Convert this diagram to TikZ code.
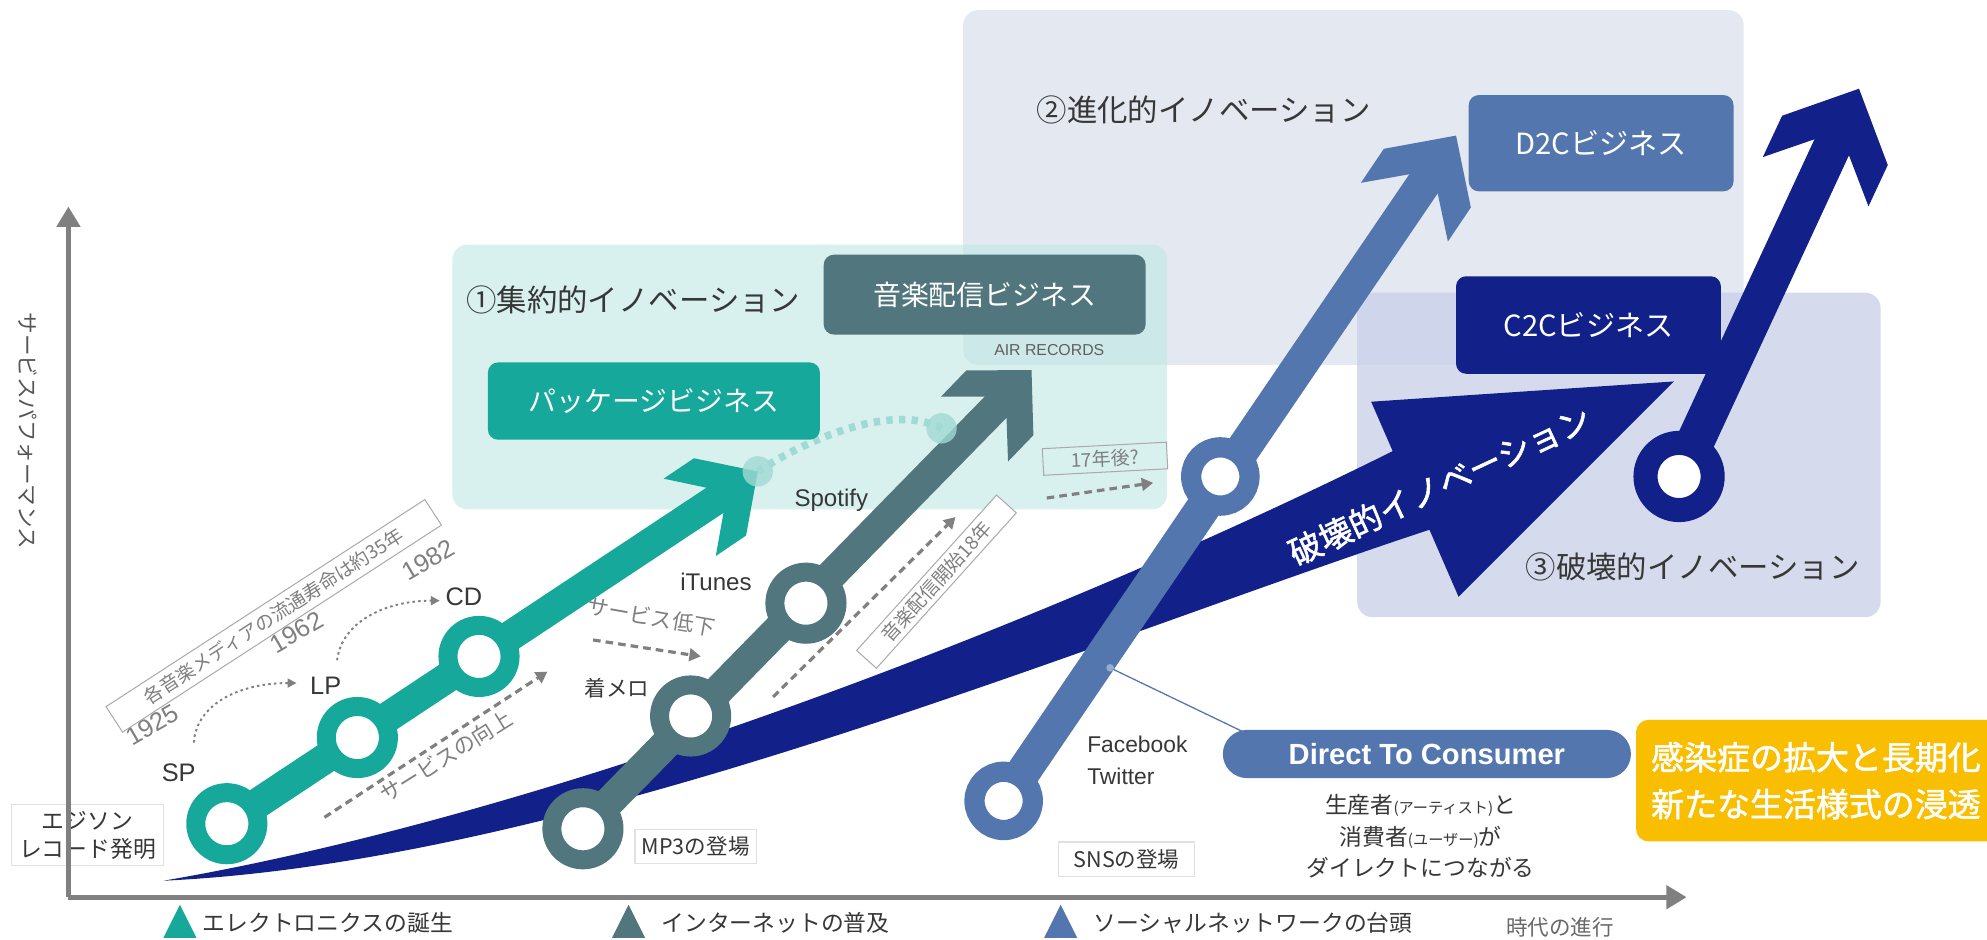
\documentclass[tikz,border=0pt]{standalone}
\usepackage{fontspec}
\setmainfont{Noto Sans CJK JP}
\newfontfamily\jpb{Noto Sans CJK JP}[FakeBold=1.6]
\newfontfamily\lat{Liberation Sans}
\newfontfamily\latb{Liberation Sans Bold}
\usetikzlibrary{arrows.meta,calc}
\definecolor{teal1}{RGB}{22,168,155}
\definecolor{tealL}{RGB}{160,218,212}
\definecolor{slate}{RGB}{81,118,125}
\definecolor{blue1}{RGB}{84,118,175}
\definecolor{navy}{RGB}{18,33,138}
\definecolor{yel}{RGB}{250,190,0}
\definecolor{boxTwo}{RGB}{228,232,241}
\definecolor{boxThree}{RGB}{200,207,232}
\definecolor{boxOne}{RGB}{190,232,228}
\definecolor{grey2}{RGB}{128,128,128}
\definecolor{grey3}{RGB}{170,170,170}
\definecolor{dark}{RGB}{55,55,55}
\definecolor{axisgrey}{RGB}{128,128,128}
\newcommand\fsz[2]{\fontsize{#1pt}{#2pt}\selectfont}
\newcommand\headshape[5]{%
  \begin{scope}[shift={(#2)},rotate=#3,scale=#4,x=1pt,y=1pt]
    \fill[#1] (0,0) -- (-45,46) -- (-81,46) -- (-51,15) -- (-51,-15) -- (-81,-46) -- (-45,-46) -- cycle;
    \coordinate (#5) at (-50,0);
  \end{scope}}
\begin{document}
\begin{tikzpicture}[x=1pt,y=-1pt,
  every node/.style={inner sep=0pt, outer sep=0pt},
  ringnode/.style={circle, draw=#1, line width=15pt, fill=white, minimum size=49pt},
  bizbox/.style={rounded corners=8pt, fill=#1, text=white, font={\fsz{22}{22}}},
  lbl/.style={text=dark},
  gtext/.style={text=grey2},
  tagbox/.style={draw=grey3, line width=0.8pt, fill=white, text=grey2},
  plainbox/.style={draw=black!12, line width=1pt, fill=white, text=dark},
  dasharrow/.style={draw=grey2, line width=2.5pt, dash pattern=on 6pt off 4pt, -{Triangle[length=9pt,width=10pt]}},
  dotarc/.style={draw=grey2, line width=1.5pt, dash pattern=on 2pt off 2.5pt, -{Triangle[length=7pt,width=7pt]}},
  tealdot/.style={draw=tealL, line width=6pt, dash pattern=on 5pt off 5pt},
  axisline/.style={draw=axisgrey, line width=4pt, -{Triangle[length=16pt,width=18pt]}}
]
\clip (0,0) rectangle (1568,741);
\fill[white] (0,0) rectangle (1568,741);

% background regions
\fill[boxTwo, rounded corners=12pt] (760,8) rectangle (1376,288);
\fill[boxThree, opacity=0.75, rounded corners=12pt] (1071,231) rectangle (1484,487);
\fill[boxOne, opacity=0.6, rounded corners=12pt] (357,193) rectangle (921,402);

\node[lbl, anchor=west, font={\fsz{24}{24}}] (t1) at (368,237) {①集約的イノベーション};
\node[lbl, anchor=west, font={\fsz{24}{24}}] (t2) at (818,87) {②進化的イノベーション};
\node[lbl, anchor=west, font={\fsz{24}{24}}] (t3) at (1204,447) {③破壊的イノベーション};

% disruptive band
\fill[navy] (129,695) .. controls (450,640) and (850,480) .. (1099,356) -- (1082,317) -- (1321,301) -- (1151,471) -- (1128,418) .. controls (850,510) and (450,680) .. (129,695) -- cycle;
\node[text=white, rotate=25, font={\jpb\fsz{26}{26}}] (disr) at (1136,383) {破壊的イノベーション};

% teal dotted link
\coordinate (lc1) at (598,372);
\coordinate (lc2) at (743,338);
\draw[tealdot] (lc1) .. controls (640,345) and (705,318) .. (lc2);

% ring centres
\coordinate (cSP) at (179,650);
\coordinate (cLP) at (282,582);
\coordinate (cCD) at (378,518);
\coordinate (cMP) at (460,654);
\coordinate (cCH) at (545,565);
\coordinate (cIT) at (636,476);
\coordinate (cSN) at (792,632);
\coordinate (cFB) at (963,376);
\coordinate (cCC) at (1325,376);
\coordinate (tipT) at (598,372);
\coordinate (tipS) at (814,292);
\coordinate (tipB) at (1149,107);
\coordinate (tipN) at (1467,70);

% arrows
\headshape{teal1}{tipT}{34}{0.8}{jT}
\draw[teal1, line width=24pt] (cSP) -- (jT);
\headshape{slate}{tipS}{46}{0.8}{jS}
\draw[slate, line width=24pt] (cMP) -- (jS);
\headshape{blue1}{tipB}{56}{0.9}{jB}
\draw[blue1, line width=27pt] (cSN) -- (jB);
\headshape{navy}{tipN}{65}{1}{jN}
\draw[navy, line width=30pt] (cCC) -- (jN);

\node[circle, fill=tealL, opacity=0.8, minimum size=24pt] (lcA) at (lc1) {};
\node[circle, fill=tealL, opacity=0.8, minimum size=24pt] (lcB) at (lc2) {};

% rings
\node[ringnode=teal1] (sp) at (cSP) {};
\node[ringnode=teal1] (lp) at (cLP) {};
\node[ringnode=teal1] (cd) at (cCD) {};
\node[ringnode=slate] (mp3) at (cMP) {};
\node[ringnode=slate] (chaku) at (cCH) {};
\node[ringnode=slate] (itunes) at (cIT) {};
\node[ringnode=blue1, line width=16pt, minimum size=46pt] (sns) at (cSN) {};
\node[ringnode=blue1, line width=16pt, minimum size=46pt] (fb) at (cFB) {};
\node[ringnode=navy, line width=19pt, minimum size=53pt] (c2cring) at (cCC) {};

% business boxes
\node[bizbox=teal1, minimum width=262pt, minimum height=61pt] (pkg) at (516,316.5) {パッケージビジネス};
\node[bizbox=slate, minimum width=254pt, minimum height=63pt] (dist) at (777,232.5) {音楽配信ビジネス};
\node[text=dark!80, font={\lat\fsz{12.5}{13}}] (air) at (828,276) {AIR RECORDS};
\node[bizbox=blue1, minimum width=209pt, minimum height=76pt, font={\fsz{23}{23}}] (d2c) at (1263.5,113) {D2Cビジネス};
\node[bizbox=navy, minimum width=209pt, minimum height=77pt, font={\fsz{23}{23}}] (c2c) at (1253.5,256.5) {C2Cビジネス};

% direct to consumer
\node[circle, fill=blue1!60, minimum size=6pt] (dot) at (876,527) {};
\coordinate (dtcTL) at (980,577);
\draw[blue1, line width=1pt] (dot) -- (dtcTL);
\node[rounded corners=19pt, fill=blue1, text=white, minimum width=322pt, minimum height=38pt, font={\latb\fsz{23}{23}}] (dtc) at (1126,595) {Direct To Consumer};
\node[lbl, align=center, font={\fsz{18}{25}}] (desc) at (1121,660) {生産者{\fsz{12}{12}(アーティスト)}と\\消費者{\fsz{12}{12}(ユーザー)}が\\ダイレクトにつながる};
\node[fill=yel, rounded corners=10pt, anchor=west, minimum height=96pt, text width=300pt, align=left, inner xsep=12pt, text=white, font={\jpb\fsz{26}{37}}] (covid) at (1291,616) {感染症の拡大と長期化\\新たな生活様式の浸透};

% labels on lines
\node[lbl, font={\lat\fsz{20}{20}}] (lSP) at (141,610) {SP};
\node[lbl, font={\lat\fsz{20}{20}}] (lLP) at (257,541) {LP};
\node[lbl, font={\lat\fsz{20}{20}}] (lCD) at (366,471) {CD};
\node[lbl, font={\fsz{17}{17}}] (lCH) at (487,543) {着メロ};
\node[lbl, font={\lat\fsz{19}{19}}] (lIT) at (565,459) {iTunes};
\node[lbl, font={\lat\fsz{19}{19}}] (lSF) at (656,395) {Spotify};
\node[lbl, anchor=west, align=left, font={\lat\fsz{18}{26}}] (lFB) at (858,600) {Facebook\\Twitter};
\node[plainbox, minimum width=96pt, minimum height=27pt, font={\fsz{17}{17}}] (lMP) at (549,668) {MP3の登場};
\node[plainbox, minimum width=107pt, minimum height=27pt, font={\fsz{17}{17}}] (lSN) at (889,678) {SNSの登場};
\node[plainbox, minimum width=120pt, minimum height=48pt, align=center, font={\fsz{18}{22}}] (edison) at (69,659) {エジソン\\レコード発明};

% years and notes
\node[gtext, rotate=30, font={\lat\fsz{20}{20}}] (y1) at (120,572) {1925};
\node[gtext, rotate=30, font={\lat\fsz{20}{20}}] (y2) at (234,499) {1962};
\node[gtext, rotate=30, font={\lat\fsz{20}{20}}] (y3) at (338,442) {1982};
\node[tagbox, rotate=33, minimum width=300pt, minimum height=24pt, font={\fsz{15}{15}}] (life) at (216,486) {各音楽メディアの流通寿命は約35年};
\coordinate (a1s) at (153,586);
\coordinate (a1e) at (234,539);
\draw[dotarc] (a1s) .. controls (155,555) and (190,539) .. (a1e);
\coordinate (a2s) at (266,521);
\coordinate (a2e) at (347,474);
\draw[dotarc] (a2s) .. controls (270,490) and (305,474) .. (a2e);

\coordinate (upS) at (256,645);
\coordinate (upE) at (432,530);
\draw[dasharrow] (upS) -- (upE);
\node[gtext, rotate=32, font={\fsz{17}{17}}] (up) at (352,597) {サービスの向上};

\coordinate (dnS) at (468,505);
\coordinate (dnE) at (553,518);
\draw[dasharrow] (dnS) -- (dnE);
\node[gtext, rotate=-10, font={\fsz{17}{17}}] (dn) at (514,487) {サービス低下};

\coordinate (m18S) at (610,550);
\coordinate (m18E) at (754,408);
\draw[dasharrow] (m18S) -- (m18E);
\node[tagbox, rotate=48, minimum width=165pt, minimum height=21pt, font={\fsz{15}{15}}] (m18) at (739,459) {音楽配信開始18年};

\node[tagbox, fill=none, rotate=3, minimum width=98pt, minimum height=21pt, font={\fsz{15}{15}}] (y17) at (872,362) {17年後?};
\coordinate (y17S) at (826,393);
\coordinate (y17E) at (910,381);
\draw[dasharrow] (y17S) -- (y17E);

% axes
\coordinate (origin) at (54,708);
\coordinate (ytop) at (54,163);
\coordinate (xend) at (1331,708);
\draw[axisline] (origin) -- (ytop);
\draw[axisline] (origin) -- (xend);
\node[text=dark!85, rotate=-90, font={\fsz{17}{17}}] (ylab) at (22,340) {サービスパフォーマンス};
\node[text=dark!75, font={\fsz{17}{17}}] (xlab) at (1231,732) {時代の進行};

% legend
\fill[teal1] (129,740) -- (142,714) -- (155,740) -- cycle;
\node[lbl, anchor=west, font={\fsz{18}{18}}] (lg1) at (160,728) {エレクトロニクスの誕生};
\fill[slate] (483,740) -- (496,714) -- (509,740) -- cycle;
\node[lbl, anchor=west, font={\fsz{18}{18}}] (lg2) at (522,728) {インターネットの普及};
\fill[blue1] (824,740) -- (837,714) -- (850,740) -- cycle;
\node[lbl, anchor=west, font={\fsz{18}{18}}] (lg3) at (863,728) {ソーシャルネットワークの台頭};
\end{tikzpicture}
\end{document}
